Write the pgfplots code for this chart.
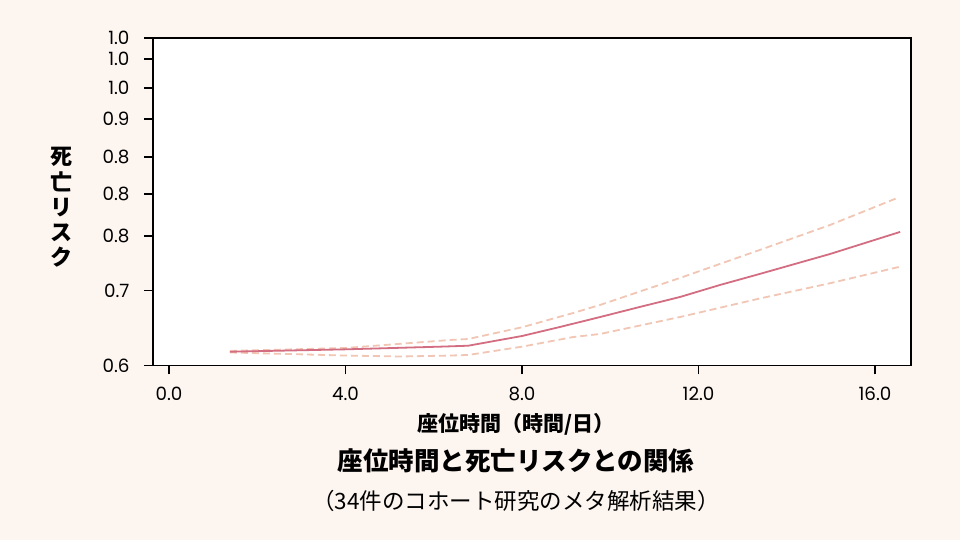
\documentclass[border=0pt]{standalone}
\usepackage{pgfplots}
\pgfplotsset{compat=1.18}
\usepackage{fontspec}
\setmainfont{Poppins}
\newfontfamily\cjk{Noto Sans CJK JP}
\definecolor{bg}{HTML}{FDF5F0}
\definecolor{mainc}{HTML}{D36E82}
\definecolor{ci}{HTML}{F2C6B4}
\begin{document}
\begin{tikzpicture}[x=1bp,y=1bp]
\path[use as bounding box, fill=bg] (0,0) rectangle (960,540);
\begin{axis}[at={(153bp,174.5bp)}, anchor=south west, scale only axis,
  width=758bp, height=327.5bp,
  xmin=-0.363, xmax=16.816,
  ymode=log, ymin=0.6, ymax=1.0495,
  xtick={0,4,8,12,16}, xticklabels={0.0,4.0,8.0,12.0,16.0},
  ytick={0.6,0.6818,0.7486,0.8039,0.8564,0.9138,0.9636,1.0125,1.0495},
  yticklabels={0.6,0.7,0.8,0.8,0.8,0.9,1.0,1.0,1.0},
  yminorticks=false, xminorticks=false,
  tick align=outside, tick pos=left, major tick length=9bp,
  tick style={black, line width=1.6bp},
  axis line style={black, line width=1.8bp},
  axis background/.style={fill=white},
  tick label style={font=\fontsize{18.3bp}{21bp}\selectfont},
  x tick label style={yshift=-9.5bp},
  y tick label style={xshift=-11bp},
]
\addplot[ci, line width=1.8bp, dash pattern=on 7bp off 4bp] coordinates {
(1.38,0.6151) (4.0,0.6182) (6.37,0.6267) (6.78,0.6278) (8.0,0.6405) (9.16,0.6563)
(9.77,0.6654) (11.58,0.6968) (13.39,0.7309) (14.98,0.7628) (16.49,0.7984)};
\addplot[ci, line width=1.8bp, dash pattern=on 7bp off 4bp] coordinates {
(1.38,0.6135) (4.0,0.6103) (5.24,0.6093) (6.37,0.6103) (6.78,0.6109) (8.0,0.6196)
(9.16,0.6299) (9.77,0.6332) (11.58,0.6518) (13.39,0.6728) (14.98,0.6905) (16.57,0.7103)};
\addplot[mainc, line width=1.8bp] coordinates {
(1.38,0.6143) (4.0,0.6168) (6.14,0.6196) (6.78,0.6206) (8.0,0.6310) (8.86,0.6408)
(9.77,0.6518) (10.67,0.6631) (11.58,0.6745) (12.49,0.6885) (13.39,0.7016) (14.98,0.7259) (16.57,0.7538)};
\end{axis}
\node[anchor=base, inner sep=0] at (516,108.4) {\cjk\bfseries\fontsize{21bp}{25bp}\selectfont 座位時間（時間/日）};
\node[anchor=base, inner sep=0] at (516,69.5) {\cjk\bfseries\fontsize{25.5bp}{30bp}\selectfont 座位時間と死亡リスクとの関係};
\node[anchor=base, inner sep=0] at (516,30.6) {\cjk\fontsize{22.5bp}{27bp}\selectfont （34件のコホート研究のメタ解析結果）};
\node[anchor=center, inner sep=0, align=center, font=\cjk\bfseries\fontsize{22bp}{25.2bp}\selectfont] at (61,332.5) {死\\亡\\リ\\ス\\ク};
\end{tikzpicture}
\end{document}
